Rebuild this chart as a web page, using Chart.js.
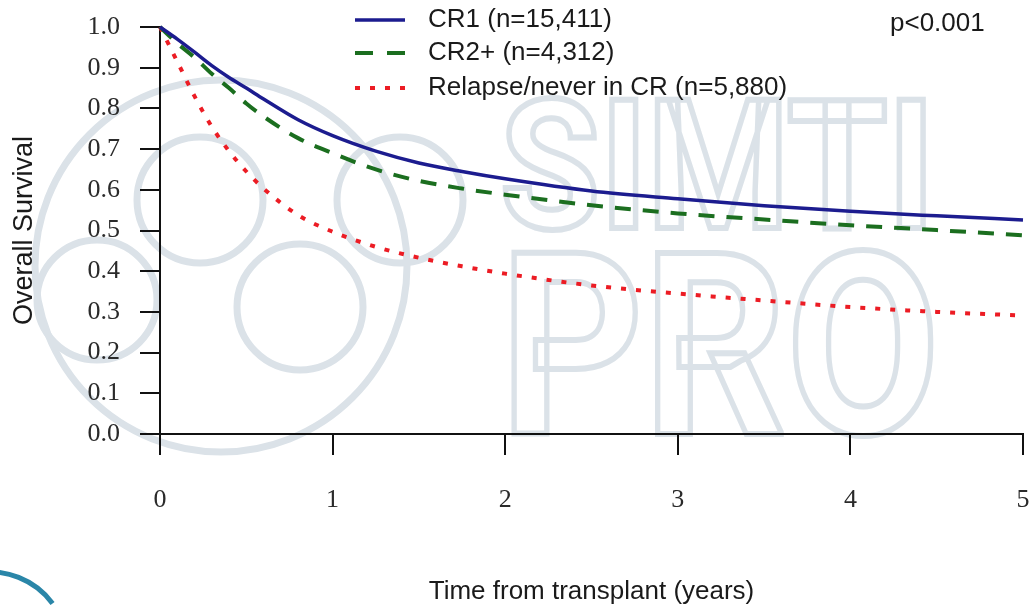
<!DOCTYPE html>
<html>
<head>
<meta charset="utf-8">
<script src="https://cdn.jsdelivr.net/npm/chart.js@4.4.1/dist/chart.umd.min.js"></script>
<style>
  html, body { margin: 0; padding: 0; background: #fff; }
  #wrap { width: 1029px; height: 610px; }
</style>
</head>
<body>
<div id="wrap"><canvas id="survChart" width="1029" height="610"></canvas></div>
<script>
// years after transplant
const times = [0, 0.1, 0.2, 0.3, 0.4, 0.5, 0.6, 0.8, 1.0, 1.25, 1.5, 1.75, 2.0, 2.5, 3.0, 3.5, 4.0, 4.5, 5.0];

// overall survival by disease status at transplant
const cr1 = [1.0, 0.97, 0.938, 0.905, 0.876, 0.85, 0.823, 0.772, 0.733, 0.695, 0.666, 0.645, 0.627, 0.597, 0.578, 0.561, 0.547, 0.536, 0.526];
const cr2plus = [1.0, 0.96, 0.925, 0.885, 0.85, 0.812, 0.78, 0.727, 0.69, 0.65, 0.622, 0.603, 0.588, 0.562, 0.542, 0.527, 0.513, 0.501, 0.488];
const relapse = [1.0, 0.915, 0.83, 0.755, 0.695, 0.645, 0.603, 0.538, 0.497, 0.46, 0.433, 0.412, 0.394, 0.365, 0.345, 0.328, 0.312, 0.3, 0.291];

const seriesLabels = ["CR1 (n=15,411)", "CR2+ (n=4,312)", "Relapse/never in CR (n=5,880)"];
const pValueText = "p<0.001";

const SANS = "'Liberation Sans', Arial, sans-serif";
const SERIF = "'Liberation Serif', 'Times New Roman', serif";

function toPoints(values) {
  return times.map((t, i) => ({ x: t, y: values[i] }));
}

// faint background mark behind the plot
const watermark = {
  id: "watermark",
  beforeDraw(chart) {
    const ctx = chart.ctx;
    ctx.save();
    ctx.strokeStyle = "#dbe2e8";
    ctx.lineWidth = 7;
    const rings = [[221, 266, 186], [200, 200, 63], [400, 200, 63], [97, 300, 60], [300, 307, 63]];
    rings.forEach(([cx, cy, r]) => {
      ctx.beginPath();
      ctx.arc(cx, cy, r, 0, Math.PI * 2);
      ctx.stroke();
    });

    ctx.lineWidth = 6;
    const words = [["SIMTI", 500, 228, 180, 435], ["PRO", 500, 434, 255, 440]];
    words.forEach(([txt, x, base, size, w]) => {
      ctx.font = "bold " + size + "px Roboto";
      const m = ctx.measureText(txt).width;
      ctx.save();
      ctx.translate(x, base);
      ctx.scale(w / m, 1);
      ctx.strokeText(txt, 0, 0);
      ctx.restore();
    });

    // corner swoosh
    ctx.strokeStyle = "#2a86a8";
    ctx.lineWidth = 5;
    ctx.beginPath();
    ctx.arc(-10, 650, 78, -1.75, -0.64);
    ctx.stroke();
    ctx.restore();
  }
};

// legend and p-value drawn inside the plot area
const keyAndNote = {
  id: "keyAndNote",
  afterDraw(chart) {
    const ctx = chart.ctx;
    const rows = [20, 53, 88];
    const keyDash = [[], [18, 14], [5, 10]];
    ctx.save();
    ctx.font = "26px " + SANS;
    ctx.textBaseline = "middle";
    ctx.fillStyle = "#1a1a1a";
    chart.data.datasets.forEach((ds, i) => {
      const y = rows[i];
      ctx.strokeStyle = ds.borderColor;
      ctx.lineWidth = ds.borderWidth;
      ctx.setLineDash(keyDash[i]);
      ctx.beginPath();
      ctx.moveTo(355, y);
      ctx.lineTo(405, y);
      ctx.stroke();
      ctx.fillText(ds.label, 428, y);
    });
    ctx.fillText(pValueText, 890, 24);
    ctx.restore();
  }
};

new Chart(document.getElementById("survChart"), {
  type: "line",
  data: {
    datasets: [
      {
        label: seriesLabels[0],
        data: toPoints(cr1),
        borderColor: "#1c1c8f",
        borderWidth: 3.5
      },
      {
        label: seriesLabels[1],
        data: toPoints(cr2plus),
        borderColor: "#1b6e1f",
        borderWidth: 4,
        borderDash: [16, 12]
      },
      {
        label: seriesLabels[2],
        data: toPoints(relapse),
        borderColor: "#ec1c24",
        borderWidth: 4,
        borderDash: [5, 10]
      }
    ]
  },
  options: {
    responsive: false,
    animation: false,
    devicePixelRatio: 1,
    layout: { padding: { top: 27, right: 6, left: 0, bottom: 0 } },
    elements: {
      point: { radius: 0 },
      line: { cubicInterpolationMode: "monotone", fill: false }
    },
    datasets: { line: { clip: false } },
    plugins: {
      legend: { display: false },
      tooltip: { enabled: false }
    },
    scales: {
      x: {
        type: "linear",
        min: 0,
        max: 5,
        afterFit: (s) => {
          s.height = 176;
          s.paddingLeft = 0;
          s.paddingRight = 0;
        },
        border: { color: "#111", width: 2 },
        grid: { drawOnChartArea: false, tickLength: 21, color: "#111", lineWidth: 2 },
        ticks: {
          stepSize: 1,
          padding: 30,
          color: "#2a2a2a",
          font: { family: SERIF, size: 26 }
        },
        title: {
          display: true,
          text: "Time from transplant (years)",
          color: "#1a1a1a",
          font: { family: SANS, size: 26 },
          padding: { top: 0, bottom: 3 }
        }
      },
      y: {
        min: 0,
        max: 1,
        afterFit: (s) => {
          s.width = 160;
          s.paddingTop = 0;
          s.paddingBottom = 0;
        },
        border: { color: "#111", width: 2 },
        grid: { drawOnChartArea: false, tickLength: 20, color: "#111", lineWidth: 2 },
        ticks: {
          stepSize: 0.1,
          padding: 20,
          color: "#2a2a2a",
          font: { family: SERIF, size: 26 },
          callback: (v) => v.toFixed(1)
        },
        title: {
          display: true,
          text: "Overall Survival",
          color: "#1a1a1a",
          font: { family: SANS, size: 27 },
          padding: { top: 8, bottom: 0 }
        }
      }
    }
  },
  plugins: [watermark, keyAndNote]
});
</script>
</body>
</html>
